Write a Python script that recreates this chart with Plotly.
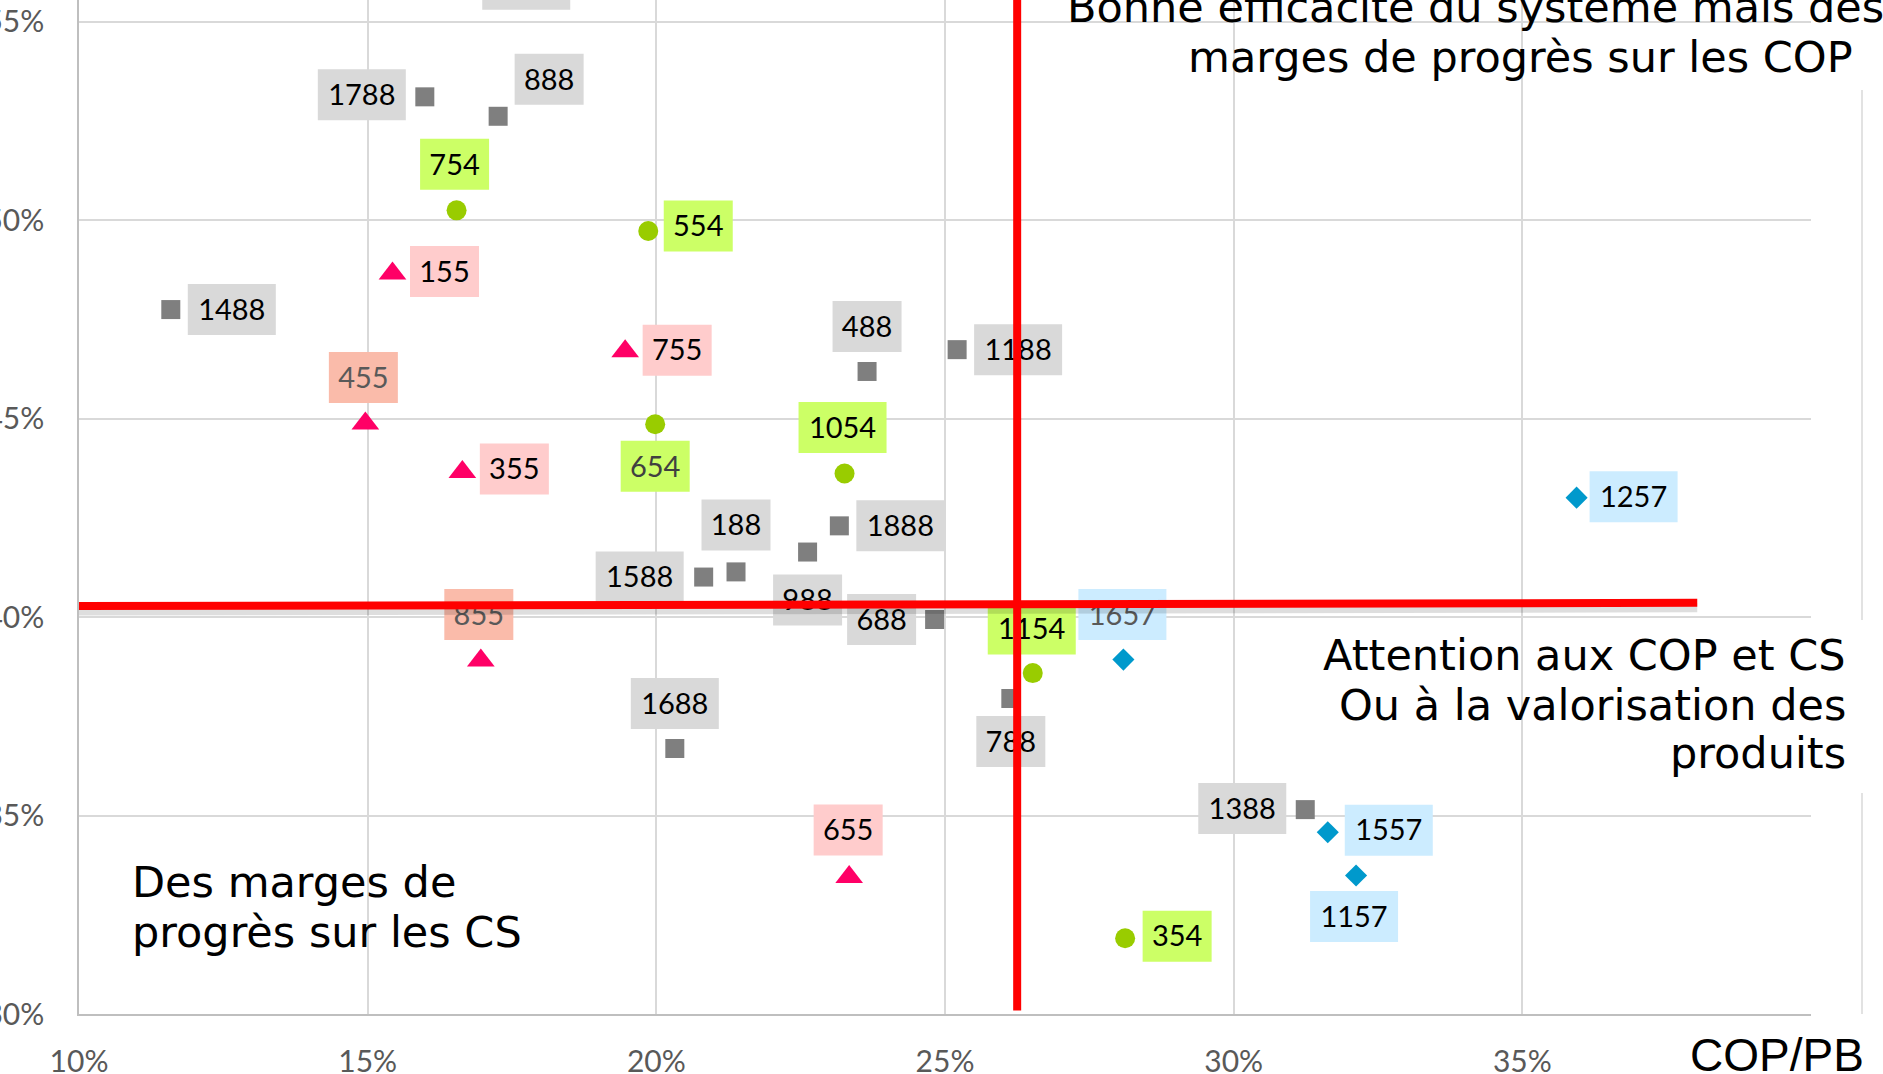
import plotly.graph_objects as go

# ---------------- data ----------------
gray_labels = ["1788", "888", "1488", "488", "1188", "188", "1888", "1588", "988", "688", "788", "1688", "1388", "1288"]
gray_x = [0.1599, 0.1726, 0.1159, 0.2365, 0.2521, 0.2138, 0.2317, 0.2082, 0.2262, 0.2482, 0.2614, 0.2032, 0.3124, 0.1669]
gray_y = [0.5311, 0.5262, 0.4775, 0.4619, 0.4674, 0.4114, 0.4230, 0.4101, 0.4164, 0.3994, 0.3795, 0.3669, 0.3515, 0.5595]

pink_labels = ["155", "755", "455", "355", "855", "655"]
pink_x = [0.1543, 0.1946, 0.1496, 0.1664, 0.1696, 0.2334]
pink_y = [0.4866, 0.4670, 0.4488, 0.4366, 0.3891, 0.3345]

green_labels = ["754", "554", "654", "1054", "1154", "354"]
green_x = [0.1654, 0.1986, 0.1998, 0.2326, 0.2652, 0.2812]
green_y = [0.5025, 0.4973, 0.4486, 0.4362, 0.3859, 0.3191]

blue_labels = ["1257", "1657", "1557", "1157"]
blue_x = [0.3594, 0.2809, 0.3163, 0.3212]
blue_y = [0.4301, 0.3893, 0.3458, 0.3349]

cop_threshold = 0.2625             # vertical red line (COP/PB)
cs_threshold = [0.4028, 0.4036]    # horizontal red line (left, right)
cs_line_end = 0.3803
cop_line_bottom = 0.3009

x_ticks = [0.10, 0.15, 0.20, 0.25, 0.30, 0.35, 0.40]
x_tick_labels = ["10%", "15%", "20%", "25%", "30%", "35%", ""]
y_ticks = [0.30, 0.35, 0.40, 0.45, 0.50, 0.55]
y_tick_labels = ["30%", "35%", "40%", "45%", "50%", "55%"]

# ---------------- layout / style ----------------
X_MIN, X_MAX = 0.10, 0.40
Y_MIN, Y_MAX = 0.30, 0.5555
FIG_W, FIG_H = 1883, 1074
M_L, M_R, M_T, M_B = 79, 72, 0, 60
PLOT_W = FIG_W - M_L - M_R
PLOT_H = FIG_H - M_T - M_B
UX = (X_MAX - X_MIN) / PLOT_W
UY = (Y_MAX - Y_MIN) / PLOT_H

LABEL_FONT = "Lato"
BOX_H = 51
TEXT_NUDGE = 3   # px: text sits slightly high when middle-centred

# label offsets in pixels (dx right, dy down) from marker centre
gray_off = [(-63, -2), (51, -37), (61, 0), (0, -45), (61, 0), (0, -47), (61, 0), (-64, 0),
            (0, 48), (-53, 0), (0, 43), (0, -45), (-63, -1), (61, 0)]
pink_off = [(52, -2), (52, -1), (-2, -46), (52, -3), (-2, -46), (-1, -47)]
green_off = [(-2, -46), (50, -5), (0, 42), (-2, -46), (-1, -44), (52, -2)]
blue_off = [(57, -1), (-1, -45), (61, -2), (-2, 41)]

series = [
    dict(name="88", labels=gray_labels, x=gray_x, y=gray_y, off=gray_off,
         symbol="square", size=19, color="#7F7F7F", box="#D9D9D9",
         special_box={}, special_txt={}),
    dict(name="55", labels=pink_labels, x=pink_x, y=pink_y, off=pink_off,
         symbol="triangle-up", size=24, color="#FF0066", box="#FFCCCC",
         special_box={"455": "#FABBAA", "855": "#FABBAA"},
         special_txt={"455": "#595959", "855": "#595959"}),
    dict(name="54", labels=green_labels, x=green_x, y=green_y, off=green_off,
         symbol="circle", size=20, color="#99CC00", box="#CCFF66",
         special_box={}, special_txt={"654": "#404040"}),
    dict(name="57", labels=blue_labels, x=blue_x, y=blue_y, off=blue_off,
         symbol="diamond", size=17, color="#0099CC", box="#CCECFF",
         special_box={}, special_txt={"1657": "#595959"}),
]

fig = go.Figure()
shapes = []

# label background boxes (between gridlines and traces)
for s in series:
    for lab, x, y, (dx, dy) in zip(s["labels"], s["x"], s["y"], s["off"]):
        w = 69 if len(lab) <= 3 else 88
        shapes.append(dict(
            type="rect", layer="between", xref="x", yref="y",
            xsizemode="pixel", ysizemode="pixel", xanchor=x, yanchor=y,
            x0=dx - w / 2, x1=dx + w / 2, y0=-dy - BOX_H / 2, y1=-dy + BOX_H / 2,
            fillcolor=s["special_box"].get(lab, s["box"]), line=dict(width=0)))


def px2paper_x(px):
    return (px - M_L) / PLOT_W


def px2paper_y(py):
    return 1 - (py - M_T) / PLOT_H


# outer light border line on the right
shapes.append(dict(type="line", layer="between", xref="paper", yref="paper",
                   x0=px2paper_x(1862), x1=px2paper_x(1862), y0=0, y1=px2paper_y(-5),
                   line=dict(color="#D9D9D9", width=1.5)))

# white boxes behind quadrant texts
for (xa, xb, ya, yb) in [(1054, 1890, -5, 90), (1248, 1875, 620, 793), (105, 700, 845, 968)]:
    shapes.append(dict(type="rect", layer="between", xref="paper", yref="paper",
                       x0=px2paper_x(xa), x1=px2paper_x(xb),
                       y0=px2paper_y(yb), y1=px2paper_y(ya),
                       fillcolor="white", line=dict(width=0)))

# markers
for s in series:
    fig.add_trace(go.Scatter(
        x=s["x"], y=s["y"], mode="markers", name=s["name"],
        marker=dict(symbol=s["symbol"], size=s["size"], color=s["color"], line=dict(width=0)),
        showlegend=False, hoverinfo="skip"))

# label texts
for s in series:
    tx = [x + dx * UX for x, (dx, dy) in zip(s["x"], s["off"])]
    ty = [y - (dy + TEXT_NUDGE) * UY for y, (dx, dy) in zip(s["y"], s["off"])]
    cols = [s["special_txt"].get(l, "#000000") for l in s["labels"]]
    fig.add_trace(go.Scatter(
        x=tx, y=ty, mode="text", text=s["labels"], textposition="middle center",
        textfont=dict(family=LABEL_FONT, size=29, color=cols),
        showlegend=False, hoverinfo="skip"))

# red threshold lines with soft shadow
shapes.append(dict(type="line", layer="above", xref="x", yref="y",
                   x0=X_MIN, x1=cs_line_end, y0=cs_threshold[0] - 5 * UY, y1=cs_threshold[1] - 5 * UY,
                   line=dict(color="rgba(0,0,0,0.13)", width=9)))
shapes.append(dict(type="line", layer="above", xref="x", yref="y",
                   x0=X_MIN, x1=cs_line_end, y0=cs_threshold[0], y1=cs_threshold[1],
                   line=dict(color="#FF0000", width=8)))
shapes.append(dict(type="line", layer="above", xref="x", yref="y",
                   x0=cop_threshold, x1=cop_threshold, y0=cop_line_bottom, y1=Y_MAX + 0.01,
                   line=dict(color="#FF0000", width=8)))

# quadrant texts
QFONT = dict(family="DejaVu Sans", size=43, color="#000000")
annotations = []
for text, px, py, anchor in [
    ("Bonne efficacité du système mais des", 1475, 7, "center"),
    ("marges de progrès sur les COP", 1520, 57, "center"),
    ("Attention aux COP et CS", 1848, 655, "right"),
    ("Ou à la valorisation des", 1848, 705, "right"),
    ("produits", 1848, 753, "right"),
    ("Des marges de", 130, 882, "left"),
    ("progrès sur les CS", 130, 932, "left"),
]:
    annotations.append(dict(text=text, xref="paper", yref="paper",
                            x=px2paper_x(px), y=px2paper_y(py),
                            xanchor=anchor, yanchor="middle", showarrow=False, font=QFONT))

annotations.append(dict(text="COP/PB", xref="paper", yref="paper",
                        x=px2paper_x(1777), y=px2paper_y(1055),
                        xanchor="center", yanchor="middle", showarrow=False,
                        font=dict(family="Liberation Sans", size=46, color="#000000")))

fig.update_layout(
    width=FIG_W, height=FIG_H,
    margin=dict(l=M_L, r=M_R, t=M_T, b=M_B, pad=0, autoexpand=False),
    paper_bgcolor="white", plot_bgcolor="white",
    shapes=shapes, annotations=annotations, showlegend=False,
    xaxis=dict(range=[X_MIN, X_MAX], tickvals=x_ticks, ticktext=x_tick_labels,
               showgrid=True, gridcolor="#D9D9D9", gridwidth=1.5, automargin=False,
               showline=True, linecolor="#BFBFBF", linewidth=1.5,
               zeroline=False, ticks="", ticklabelstandoff=20,
               tickfont=dict(family=LABEL_FONT, size=30, color="#595959")),
    yaxis=dict(range=[Y_MIN, Y_MAX], tickvals=y_ticks, ticktext=y_tick_labels,
               showgrid=True, gridcolor="#D9D9D9", gridwidth=1.5, automargin=False,
               showline=True, linecolor="#BFBFBF", linewidth=1.5,
               zeroline=False, ticks="", ticklabelstandoff=27,
               tickfont=dict(family=LABEL_FONT, size=30, color="#595959")),
)

fig.write_html("out.html", config={"displayModeBar": False},
               post_script="document.body.style.margin='0';document.body.style.overflow='hidden';")
